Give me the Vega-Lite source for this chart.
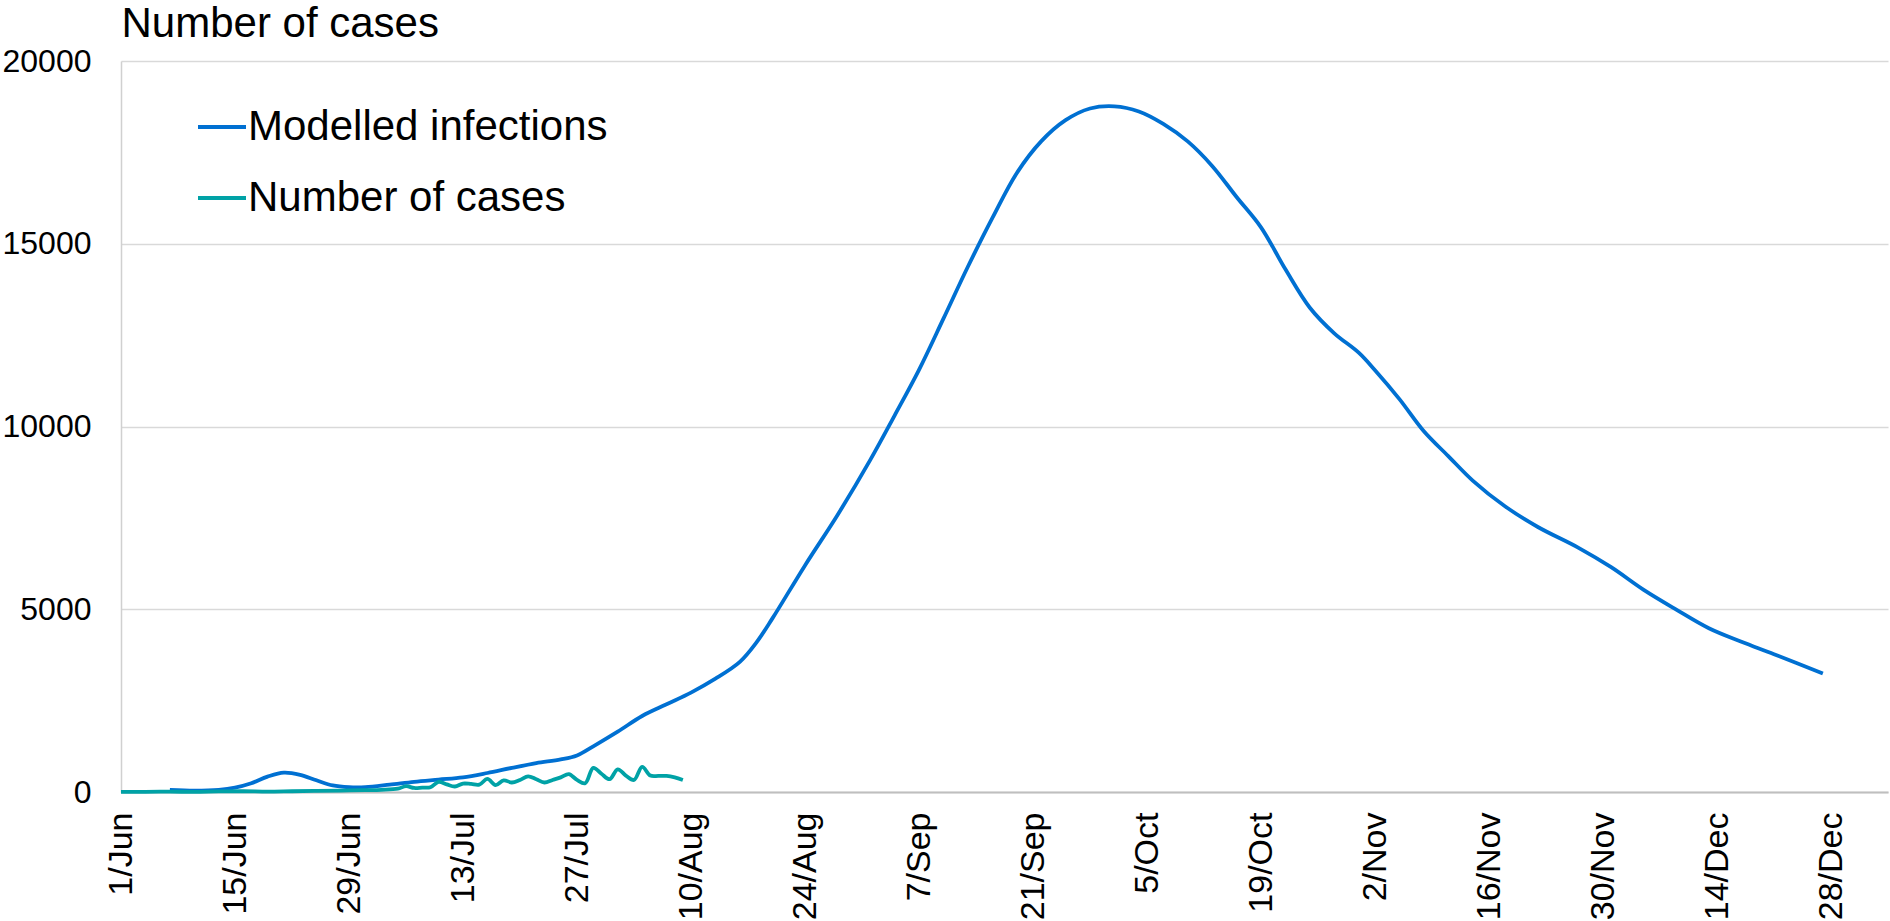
{
  "$schema": "https://vega.github.io/schema/vega-lite/v6.json",
  "width": 1767,
  "height": 731,
  "autosize": "none",
  "padding": {"left": 121, "top": 61, "right": 2, "bottom": 129},
  "background": "white",
  "config": {
    "view": {"stroke": null},
    "font": "Liberation Sans",
    "axis": {"labelFont": "Liberation Sans", "titleFont": "Liberation Sans", "labelColor": "#000000", "titleColor": "#000000"},
    "legend": {"labelFont": "Liberation Sans"}
  },
  "datasets": {
    "modelled": [
      {"date": "2020/06/07", "value": 60},
      {"date": "2020/06/10", "value": 40},
      {"date": "2020/06/13", "value": 60},
      {"date": "2020/06/15", "value": 120},
      {"date": "2020/06/17", "value": 240},
      {"date": "2020/06/19", "value": 420},
      {"date": "2020/06/21", "value": 530},
      {"date": "2020/06/23", "value": 470},
      {"date": "2020/06/25", "value": 320},
      {"date": "2020/06/27", "value": 180},
      {"date": "2020/06/29", "value": 130},
      {"date": "2020/07/01", "value": 130},
      {"date": "2020/07/04", "value": 200},
      {"date": "2020/07/07", "value": 280},
      {"date": "2020/07/10", "value": 340},
      {"date": "2020/07/13", "value": 400},
      {"date": "2020/07/16", "value": 520},
      {"date": "2020/07/19", "value": 660},
      {"date": "2020/07/22", "value": 790},
      {"date": "2020/07/25", "value": 890},
      {"date": "2020/07/27", "value": 1000},
      {"date": "2020/07/29", "value": 1250},
      {"date": "2020/08/01", "value": 1650},
      {"date": "2020/08/04", "value": 2080},
      {"date": "2020/08/07", "value": 2400},
      {"date": "2020/08/10", "value": 2720},
      {"date": "2020/08/13", "value": 3100},
      {"date": "2020/08/16", "value": 3560},
      {"date": "2020/08/18", "value": 4080},
      {"date": "2020/08/20", "value": 4750},
      {"date": "2020/08/24", "value": 6200},
      {"date": "2020/08/28", "value": 7580},
      {"date": "2020/09/01", "value": 9080},
      {"date": "2020/09/04", "value": 10300},
      {"date": "2020/09/07", "value": 11550},
      {"date": "2020/09/10", "value": 12950},
      {"date": "2020/09/13", "value": 14370},
      {"date": "2020/09/16", "value": 15700},
      {"date": "2020/09/19", "value": 16930},
      {"date": "2020/09/22", "value": 17800},
      {"date": "2020/09/25", "value": 18380},
      {"date": "2020/09/28", "value": 18700},
      {"date": "2020/10/01", "value": 18760},
      {"date": "2020/10/04", "value": 18620},
      {"date": "2020/10/07", "value": 18280},
      {"date": "2020/10/10", "value": 17800},
      {"date": "2020/10/13", "value": 17130},
      {"date": "2020/10/16", "value": 16280},
      {"date": "2020/10/19", "value": 15450},
      {"date": "2020/10/22", "value": 14300},
      {"date": "2020/10/25", "value": 13250},
      {"date": "2020/10/28", "value": 12550},
      {"date": "2020/10/31", "value": 12020},
      {"date": "2020/11/02", "value": 11540},
      {"date": "2020/11/05", "value": 10750},
      {"date": "2020/11/08", "value": 9870},
      {"date": "2020/11/11", "value": 9190},
      {"date": "2020/11/14", "value": 8520},
      {"date": "2020/11/18", "value": 7810},
      {"date": "2020/11/22", "value": 7250},
      {"date": "2020/11/27", "value": 6680},
      {"date": "2020/12/01", "value": 6150},
      {"date": "2020/12/05", "value": 5530},
      {"date": "2020/12/09", "value": 4990},
      {"date": "2020/12/13", "value": 4480},
      {"date": "2020/12/17", "value": 4110},
      {"date": "2020/12/21", "value": 3770},
      {"date": "2020/12/27", "value": 3240}
    ],
    "cases": [
      {"date": "2020/06/01", "value": 5},
      {"date": "2020/06/04", "value": 5},
      {"date": "2020/06/07", "value": 10},
      {"date": "2020/06/10", "value": 5},
      {"date": "2020/06/13", "value": 15},
      {"date": "2020/06/16", "value": 20},
      {"date": "2020/06/19", "value": 10},
      {"date": "2020/06/22", "value": 20},
      {"date": "2020/06/25", "value": 30},
      {"date": "2020/06/28", "value": 40},
      {"date": "2020/07/01", "value": 50},
      {"date": "2020/07/03", "value": 60},
      {"date": "2020/07/05", "value": 90},
      {"date": "2020/07/06", "value": 160},
      {"date": "2020/07/07", "value": 110},
      {"date": "2020/07/08", "value": 120},
      {"date": "2020/07/09", "value": 130},
      {"date": "2020/07/10", "value": 280},
      {"date": "2020/07/11", "value": 210},
      {"date": "2020/07/12", "value": 150},
      {"date": "2020/07/13", "value": 230},
      {"date": "2020/07/14", "value": 220},
      {"date": "2020/07/15", "value": 200},
      {"date": "2020/07/16", "value": 360},
      {"date": "2020/07/17", "value": 190},
      {"date": "2020/07/18", "value": 320},
      {"date": "2020/07/19", "value": 260},
      {"date": "2020/07/20", "value": 330},
      {"date": "2020/07/21", "value": 430},
      {"date": "2020/07/22", "value": 350},
      {"date": "2020/07/23", "value": 260},
      {"date": "2020/07/24", "value": 330},
      {"date": "2020/07/25", "value": 400},
      {"date": "2020/07/26", "value": 490},
      {"date": "2020/07/27", "value": 330},
      {"date": "2020/07/28", "value": 240},
      {"date": "2020/07/29", "value": 660},
      {"date": "2020/07/30", "value": 500},
      {"date": "2020/07/31", "value": 350},
      {"date": "2020/08/01", "value": 620},
      {"date": "2020/08/02", "value": 450},
      {"date": "2020/08/03", "value": 330},
      {"date": "2020/08/04", "value": 690},
      {"date": "2020/08/05", "value": 450},
      {"date": "2020/08/06", "value": 440},
      {"date": "2020/08/07", "value": 440},
      {"date": "2020/08/08", "value": 400},
      {"date": "2020/08/09", "value": 330}
    ]
  },
  "layer": [
    {
      "data": {"name": "modelled"},
      "transform": [{"calculate": "'Modelled infections'", "as": "series"}],
      "mark": {"type": "line", "strokeWidth": 3.8, "interpolate": "catmull-rom"},
      "encoding": {
        "x": {
          "field": "date", "type": "temporal",
          "scale": {"domain": [{"year": 2020, "month": 6, "date": 1}, {"year": 2021, "month": 1, "date": 4}]},
          "axis": {
            "title": null,
            "values": [
              {"year": 2020, "month": 6, "date": 1}, {"year": 2020, "month": 6, "date": 15}, {"year": 2020, "month": 6, "date": 29},
              {"year": 2020, "month": 7, "date": 13}, {"year": 2020, "month": 7, "date": 27}, {"year": 2020, "month": 8, "date": 10},
              {"year": 2020, "month": 8, "date": 24}, {"year": 2020, "month": 9, "date": 7}, {"year": 2020, "month": 9, "date": 21},
              {"year": 2020, "month": 10, "date": 5}, {"year": 2020, "month": 10, "date": 19}, {"year": 2020, "month": 11, "date": 2},
              {"year": 2020, "month": 11, "date": 16}, {"year": 2020, "month": 11, "date": 30}, {"year": 2020, "month": 12, "date": 14},
              {"year": 2020, "month": 12, "date": 28}
            ],
            "format": "%-d/%b",
            "labelAngle": 270,
            "labelAlign": "right",
            "labelBaseline": "middle",
            "labelFontSize": 34,
            "labelPadding": 20,
            "labelOverlap": false,
            "labelBound": false,
            "labelFlush": false,
            "ticks": false,
            "tickSize": 0,
            "grid": false,
            "domainColor": "#BFBFBF",
            "domainWidth": 2
          }
        },
        "y": {
          "field": "value", "type": "quantitative",
          "scale": {"domain": [0, 20000], "nice": false},
          "axis": {
            "title": "Number of cases",
            "titleAngle": 0,
            "titleAlign": "left",
            "titleBaseline": "alphabetic",
            "titleX": 0,
            "titleY": -25,
            "titleFontSize": 42,
            "titleFontWeight": "normal",
            "values": [0, 5000, 10000, 15000, 20000],
            "format": "d",
            "labelFontSize": 32,
            "labelPadding": 30,
            "ticks": false,
            "tickSize": 0,
            "grid": true,
            "gridColor": "#D9D9D9",
            "gridWidth": 1.5,
            "domain": true,
            "domainColor": "#D0D0D0",
            "domainWidth": 1.5
          }
        },
        "color": {
          "field": "series", "type": "nominal",
          "scale": {"domain": ["Modelled infections", "Number of cases"], "range": ["#0070D2", "#00A2A6"]},
          "legend": {
            "title": null,
            "orient": "none",
            "legendX": 75,
            "legendY": 40,
            "padding": 0,
            "symbolType": "stroke",
            "symbolSize": 2304,
            "symbolStrokeWidth": 4,
            "labelFontSize": 42,
            "labelColor": "#000000",
            "labelOffset": 0,
            "rowPadding": 24,
            "labelLimit": 1000
          }
        }
      }
    },
    {
      "data": {"name": "cases"},
      "transform": [{"calculate": "'Number of cases'", "as": "series"}],
      "mark": {"type": "line", "strokeWidth": 3.8, "interpolate": "catmull-rom"},
      "encoding": {
        "x": {"field": "date", "type": "temporal"},
        "y": {"field": "value", "type": "quantitative"},
        "color": {"field": "series", "type": "nominal"}
      }
    }
  ]
}
